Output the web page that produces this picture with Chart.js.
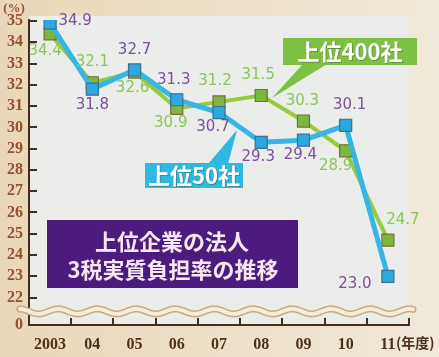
<!DOCTYPE html>
<html><head><meta charset="utf-8">
<script src="https://cdn.jsdelivr.net/npm/chart.js@4/dist/chart.umd.min.js"></script>
<style>html,body{margin:0;padding:0;background:#ecdfc6;}canvas{display:block}</style>
</head><body>
<canvas id="c" width="439" height="357"></canvas>
<script>
// ---- data ----
const years = ['2003','04','05','06','07','08','09','10','11'];
const top50 = [34.9, 31.8, 32.7, 31.3, 30.7, 29.3, 29.4, 30.1, 23.0];
const top400 = [34.4, 32.1, 32.6, 30.9, 31.2, 31.5, 30.3, 28.9, 24.7];
const yTickValues = [22, 23, 24, 25, 26, 27, 28, 29, 30, 31, 32, 33, 34, 35];
const yOrigin = 20.71;          // broken-axis origin, labelled "0"
const seriesNames = ['上位50社', '上位400社'];
const titleLines = ['上位企業の法人', '3税実質負担率の推移'];
const yUnit = '(%)';
const xUnit = '(年度)';

// ---- styles ----
const AXIS = '#4a2c1a';
const BLUE = '#36b6e6', GREEN = '#98ca3e';
const PURPLE_TXT = '#7c4e9e', GREEN_TXT = '#8cc65a';
const labelOffsets = {
  0: [[25,-2],[0,16],[0,-20],[-3,-20],[-6,15],[-3,15],[-3,15],[4,-20],[-33,8]],
  1: [[-5,17],[0,-21],[-2,16],[-6,15],[-4,-21],[-3,-20],[-1,-20],[-10,15],[15,-20]]
};
const labelColors = [PURPLE_TXT, GREEN_TXT];

const deco = {
  id: 'deco',
  beforeDraw(chart) {
    const {ctx, chartArea: a} = chart;
    ctx.save();
    const g = ctx.createLinearGradient(0, 0, chart.width, 0);
    g.addColorStop(0, '#e9d7b9'); g.addColorStop(1, '#f1e9da');
    ctx.fillStyle = g; ctx.fillRect(0, 0, chart.width, chart.height);
    ctx.fillStyle = '#eaedea';
    ctx.fillRect(a.left, a.top - 4, a.right - a.left, a.bottom - a.top + 4);
    ctx.restore();
  },
  beforeDatasetsDraw(chart) {
    const {ctx, chartArea: a, scales: {x, y}} = chart;
    ctx.save();
    ctx.strokeStyle = AXIS; ctx.lineWidth = 2;
    yTickValues.forEach(v => {
      const py = Math.round(y.getPixelForValue(v));
      ctx.beginPath(); ctx.moveTo(a.left, py); ctx.lineTo(a.left + 8, py); ctx.stroke();
    });
    const step = x.getPixelForValue(1) - x.getPixelForValue(0);
    for (let i = 0; i < years.length; i++) {
      const px = Math.round(x.getPixelForValue(i) + step / 2);
      ctx.beginPath(); ctx.moveTo(px, a.bottom); ctx.lineTo(px, a.bottom - 7); ctx.stroke();
    }
    // wavy axis break
    const wy = y.getPixelForValue(21.35);
    const path = () => {
      ctx.beginPath();
      let first = true;
      for (let px = a.left - 9; px <= a.right + 4; px += 1) {
        const py = wy + 2.5 * Math.sin((px - a.left) / 39 * 2 * Math.PI);
        if (first) { ctx.moveTo(px, py); first = false; } else ctx.lineTo(px, py);
      }
    };
    ctx.lineCap = 'round';
    ctx.lineWidth = 7; ctx.strokeStyle = '#c8ab83'; path(); ctx.stroke();
    ctx.lineWidth = 4; ctx.strokeStyle = '#f6ecd9'; path(); ctx.stroke();
    ctx.restore();
  },
  afterDatasetsDraw(chart) {
    const {ctx, chartArea: a, scales: {x, y}} = chart;
    ctx.save();
    const cjk = '"Noto Sans CJK JP", sans-serif';
    // callout: 上位400社
    ctx.fillStyle = '#7cc142';
    ctx.beginPath(); ctx.moveTo(303, 64); ctx.lineTo(327, 64); ctx.lineTo(272, 98); ctx.closePath(); ctx.fill();
    ctx.fillRect(283, 38, 134, 27);
    // callout: 上位50社
    ctx.fillStyle = '#2fb8e2';
    ctx.beginPath(); ctx.moveTo(208, 164); ctx.lineTo(228, 164); ctx.lineTo(237, 130); ctx.closePath(); ctx.fill();
    ctx.fillRect(145, 163, 98, 25);
    ctx.textAlign = 'center'; ctx.textBaseline = 'middle';
    ctx.font = 'bold 22px ' + cjk;
    ctx.fillStyle = 'rgba(60,60,40,0.35)';
    ctx.fillText(seriesNames[1], 351, 53); ctx.fillText(seriesNames[0], 195, 177);
    ctx.fillStyle = '#ffffff';
    ctx.fillText(seriesNames[1], 350, 52);
    ctx.fillText(seriesNames[0], 194, 176);
    // title box
    ctx.fillStyle = '#4b1c7e';
    ctx.fillRect(47, 220, 251, 68);
    ctx.fillStyle = '#f6e8f0';
    ctx.font = 'bold 22px ' + cjk;
    ctx.fillText(titleLines[0], 172, 242);
    ctx.fillText(titleLines[1], 173, 270);
    // value labels
    ctx.font = '15px "DejaVu Sans", sans-serif';
    chart.data.datasets.forEach((ds, di) => {
      const meta = chart.getDatasetMeta(di);
      meta.data.forEach((pt, i) => {
        const [dx, dy] = labelOffsets[di][i];
        ctx.fillStyle = labelColors[di];
        ctx.fillText(ds.data[i].toFixed(1), pt.x + dx, pt.y + dy);
      });
    });
    // unit labels
    ctx.fillStyle = '#93522f';
    ctx.font = 'bold 13px "Liberation Serif", serif';
    ctx.fillText(yUnit, 14, 9);
    ctx.textAlign = 'left';
    ctx.fillStyle = '#4d301c';
    ctx.font = 'bold 14px ' + cjk;
    ctx.fillText(xUnit, x.getPixelForValue(years.length - 1) + 8, 343);
    ctx.restore();
  }
};

new Chart(document.getElementById('c'), {
  type: 'line',
  data: {
    labels: years,
    datasets: [
      { label: seriesNames[0], data: top50, borderColor: BLUE, borderWidth: 5, tension: 0,
        pointStyle: 'rect', pointRadius: 8.5, pointBackgroundColor: '#2aa9e0',
        pointBorderColor: '#3e6d98', pointBorderWidth: 1.2 },
      { label: seriesNames[1], data: top400, borderColor: GREEN, borderWidth: 4, tension: 0,
        pointStyle: 'rect', pointRadius: 8.5, pointBackgroundColor: '#7cb83c',
        pointBorderColor: '#7a6b3c', pointBorderWidth: 1.2 }
    ]
  },
  options: {
    responsive: false, animation: false, devicePixelRatio: 1,
    layout: { padding: { top: 20, right: 30, left: 0, bottom: 0 } },
    plugins: { legend: { display: false }, tooltip: { enabled: false } },
    scales: {
      x: {
        type: 'category', offset: true,
        afterFit(s) { s.height = 32; },
        grid: { display: false, drawTicks: false, offset: true },
        border: { display: true, color: AXIS, width: 2 },
        ticks: { padding: 10, color: '#4d301c', autoSkip: false, maxRotation: 0,
                 font: { family: 'Liberation Serif', weight: 'bold', size: 16 } }
      },
      y: {
        type: 'linear', min: yOrigin, max: 35.05,
        afterBuildTicks(s) { s.ticks = [{ value: yOrigin }].concat(yTickValues.map(v => ({ value: v }))); },
        afterFit(s) { s.width = 29; },
        grid: { display: false, drawTicks: false },
        border: { display: true, color: AXIS, width: 2 },
        ticks: { padding: 6, color: '#93522f', autoSkip: false,
                 font: { family: 'Liberation Serif', weight: 'bold', size: 16 },
                 callback: v => (v < 21 ? '0' : String(v)) }
      }
    }
  },
  plugins: [deco]
});
</script>
</body></html>
